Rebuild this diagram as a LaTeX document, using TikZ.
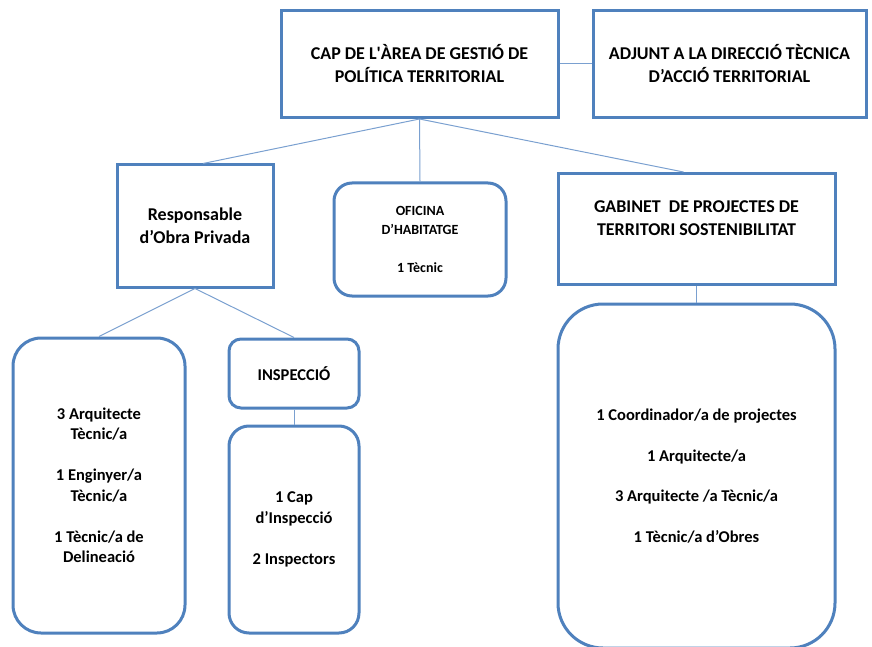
\documentclass[tikz,border=0pt]{standalone}
\usepackage{fontspec}
\setmainfont{Carlito}
\usetikzlibrary{calc}
\definecolor{boxblue}{RGB}{79,129,189}
\definecolor{linkblue}{RGB}{122,160,208}
\begin{document}
\begin{tikzpicture}[x=1pt,y=-1pt,
  box/.style={draw=boxblue, line width=3pt, fill=white, align=center, inner sep=0pt},
  big/.style={font=\bfseries\fontsize{18}{23}\selectfont},
  mid/.style={font=\bfseries\fontsize{16.5}{20.5}\selectfont},
  small/.style={font=\bfseries\fontsize{14}{19}\selectfont},
  link/.style={draw=linkblue, line width=1pt}]
\useasboundingbox (0,0) rectangle (872,647);

\node[box, big, minimum width=277pt, minimum height=107pt] (cap) at (419.5,64)
  {CAP DE L\textquotesingle ÀREA DE GESTIÓ DE\\POLÍTICA TERRITORIAL};
\node[box, big, minimum width=273pt, minimum height=107pt] (adj) at (729.5,64)
  {ADJUNT A LA DIRECCIÓ TÈCNICA\\D'ACCIÓ TERRITORIAL};
\node[box, big, minimum width=156pt, minimum height=122pt] (resp) at (195,226)
  {Responsable\\d'Obra Privada};
\node[box, small, rounded corners=18pt, minimum width=172pt, minimum height=113pt] (ofi) at (420,239.5)
  {OFICINA\\D'HABITATGE\\[19pt]1 Tècnic};
\node[box, minimum width=277pt, minimum height=111pt] (gab) at (696.5,229) {};
\node[big, align=center, anchor=center] (gabtxt) at (696.5,218.5)
  {GABINET \ DE PROJECTES DE\\TERRITORI SOSTENIBILITAT};

\node[box, mid, rounded corners=28pt, minimum width=172pt, minimum height=295pt] (tec) at (99,485.5)
  {3 Arquitecte\\Tècnic/a\\[20.5pt]1 Enginyer/a\\Tècnic/a\\[20.5pt]1 Tècnic/a de\\Delineació};
\node[box, mid, rounded corners=12pt, minimum width=130pt, minimum height=69pt] (insp) at (294,373.5)
  {INSPECCIÓ};
\node[box, mid, rounded corners=20pt, minimum width=130pt, minimum height=207pt] (inspb) at (294,529.5)
  {1 Cap\\d'Inspecció\\[20.5pt]2 Inspectors};
\node[box, mid, rounded corners=45pt, minimum width=277pt, minimum height=344pt] (gabb) at (696.5,476)
  {1 Coordinador/a de projectes\\[20pt]1 Arquitecte/a\\[20pt]3 Arquitecte /a Tècnic/a\\[20pt]1 Tècnic/a d'Obres};

\draw[link] (cap.east) -- (adj.west);
\draw[link] (cap.south) -- ($(resp.north)+(8,0)$);
\draw[link] (cap.south) -- (ofi.north);
\draw[link] (cap.south) -- ($(gab.north)+(-13,0)$);
\draw[link] (resp.south) -- (tec.north);
\draw[link] (resp.south) -- (insp.north);
\draw[link] (insp.south) -- (inspb.north);
\draw[link] (gab.south) -- (gabb.north);
\end{tikzpicture}
\end{document}
